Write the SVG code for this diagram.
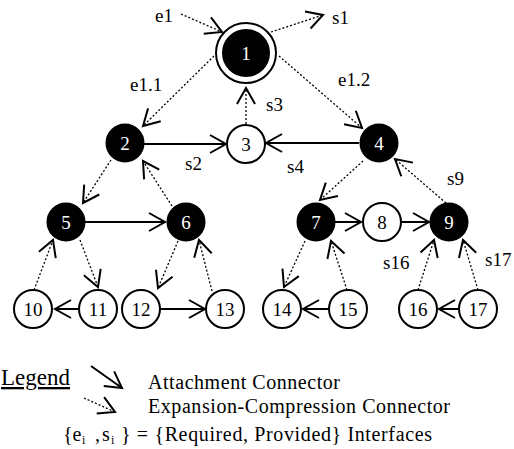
<svg xmlns="http://www.w3.org/2000/svg" width="514" height="449" viewBox="0 0 514 449" font-family="Liberation Serif, Times New Roman, serif">
<style>
text{font-family:"Liberation Serif",serif;fill:#000}
.lbl{font-size:19px}
.nl{font-size:19px;text-anchor:middle}
.nl.w{fill:#fff}
.leg{font-size:20px}
.fill{fill:#000;stroke:#000;stroke-width:2}
.open{fill:#fff;stroke:#000;stroke-width:2}
.att{stroke:#000;stroke-width:2;fill:none;marker-end:url(#ah)}
.exp{stroke:#000;stroke-width:1.3;stroke-dasharray:2 2;fill:none;marker-end:url(#ah)}
</style>
<defs>
<marker id="ah" markerUnits="userSpaceOnUse" markerWidth="40" markerHeight="40" viewBox="-20 -20 40 40" refX="0" refY="0" orient="auto" overflow="visible">
<path d="M-16,-9 L0,0 L-16,9" fill="none" stroke="#000" stroke-width="2" stroke-dasharray="none"/>
</marker>
</defs>
<rect width="514" height="449" fill="#fff"/>
<g id="connectors">
<line class="exp" x1="181" y1="14" x2="222" y2="32"/>
<line class="exp" x1="271" y1="32" x2="323" y2="15"/>
<line class="exp" x1="214" y1="56" x2="143" y2="126"/>
<line class="exp" x1="279" y1="56" x2="362" y2="128"/>
<line class="exp" x1="246" y1="124" x2="246" y2="88"/>
<line class="att" x1="144" y1="144" x2="226" y2="144"/>
<line class="att" x1="359" y1="143" x2="266" y2="143"/>
<line class="exp" x1="111" y1="160" x2="83" y2="203"/>
<line class="exp" x1="172" y1="206" x2="143" y2="161"/>
<line class="exp" x1="363" y1="161" x2="320" y2="200"/>
<line class="exp" x1="446" y1="203" x2="395" y2="159"/>
<line class="att" x1="85" y1="222" x2="165" y2="222"/>
<line class="att" x1="335" y1="222" x2="361" y2="222"/>
<line class="att" x1="402" y1="222" x2="429" y2="222"/>
<line class="exp" x1="34" y1="290" x2="53" y2="240"/>
<line class="exp" x1="80" y1="240" x2="98" y2="287"/>
<line class="exp" x1="178" y1="241" x2="158" y2="288"/>
<line class="exp" x1="212" y1="291" x2="199" y2="240"/>
<line class="exp" x1="305" y1="241" x2="284" y2="287"/>
<line class="exp" x1="347" y1="290" x2="331" y2="241"/>
<line class="exp" x1="418" y1="290" x2="434" y2="240"/>
<line class="exp" x1="478" y1="290" x2="463" y2="240"/>
<line class="att" x1="80" y1="309" x2="55" y2="309"/>
<line class="att" x1="160" y1="309" x2="205" y2="309"/>
<line class="att" x1="329" y1="309" x2="303" y2="309"/>
<line class="att" x1="460" y1="309" x2="439" y2="309"/>
</g>
<g id="node1"><circle class="open" cx="246" cy="53" r="30"/><circle class="fill" cx="246" cy="53" r="23"/><text class="nl w" x="246" y="60">1</text></g>
<g id="node2"><circle class="fill" cx="125" cy="143" r="18.5"/><text class="nl w" x="125" y="150">2</text></g>
<g id="node3"><circle class="open" cx="246" cy="144" r="19"/><text class="nl" x="246" y="151">3</text></g>
<g id="node4"><circle class="fill" cx="379" cy="143" r="18.5"/><text class="nl w" x="379" y="150">4</text></g>
<g id="node5"><circle class="fill" cx="66" cy="222" r="18.5"/><text class="nl w" x="66" y="229">5</text></g>
<g id="node6"><circle class="fill" cx="186" cy="222" r="18.5"/><text class="nl w" x="186" y="229">6</text></g>
<g id="node7"><circle class="fill" cx="316" cy="222" r="18.5"/><text class="nl w" x="316" y="229">7</text></g>
<g id="node8"><circle class="open" cx="382" cy="222" r="19"/><text class="nl" x="382" y="229">8</text></g>
<g id="node9"><circle class="fill" cx="449" cy="222" r="18.5"/><text class="nl w" x="449" y="229">9</text></g>
<g id="node10"><circle class="open" cx="33" cy="309" r="19"/><text class="nl" x="33" y="316">10</text></g>
<g id="node11"><circle class="open" cx="98" cy="309" r="19"/><text class="nl" x="98" y="316">11</text></g>
<g id="node12"><circle class="open" cx="141" cy="309" r="19"/><text class="nl" x="141" y="316">12</text></g>
<g id="node13"><circle class="open" cx="225" cy="309" r="19"/><text class="nl" x="225" y="316">13</text></g>
<g id="node14"><circle class="open" cx="282" cy="309" r="19"/><text class="nl" x="282" y="316">14</text></g>
<g id="node15"><circle class="open" cx="348" cy="309" r="19"/><text class="nl" x="348" y="316">15</text></g>
<g id="node16"><circle class="open" cx="418" cy="309" r="19"/><text class="nl" x="418" y="316">16</text></g>
<g id="node17"><circle class="open" cx="478" cy="309" r="19"/><text class="nl" x="478" y="316">17</text></g>
<g id="labels">
<text class="lbl" x="155" y="22">e1</text>
<text class="lbl" x="332" y="24">s1</text>
<text class="lbl" x="130" y="91">e1.1</text>
<text class="lbl" x="338" y="86">e1.2</text>
<text class="lbl" x="266" y="111">s3</text>
<text class="lbl" x="185" y="170">s2</text>
<text class="lbl" x="287" y="173">s4</text>
<text class="lbl" x="447" y="185">s9</text>
<text class="lbl" x="383" y="269">s16</text>
<text class="lbl" x="485" y="266">s17</text>
</g>
<g id="legend">
<text x="1" y="385" font-size="23" text-decoration="underline">Legend</text>
<line class="att" x1="91" y1="366" x2="122" y2="388"/>
<line class="exp" x1="84" y1="398" x2="115" y2="412"/>
<text class="leg" x="148" y="389" textLength="192">Attachment Connector</text>
<text class="leg" x="148" y="413" textLength="302">Expansion-Compression Connector</text>
<text class="leg" y="441"><tspan x="63">{e</tspan><tspan x="82" y="444" font-size="12">i</tspan><tspan x="95" y="441">,</tspan><tspan x="102">s</tspan><tspan x="111" y="444" font-size="12">i</tspan><tspan x="121" y="441" textLength="311">} = {Required, Provided} Interfaces</tspan></text>
</g>
</svg>
